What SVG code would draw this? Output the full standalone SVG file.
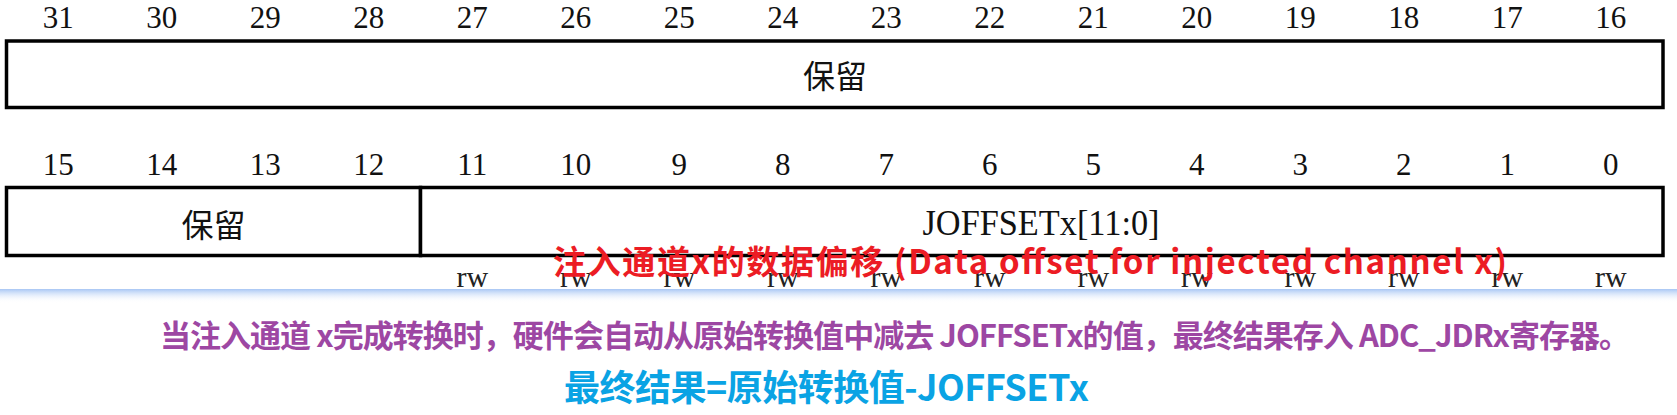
<svg xmlns="http://www.w3.org/2000/svg" width="1677" height="415" viewBox="0 0 1677 415">
<style>
.box{fill:#ffffff;stroke:#000000;stroke-width:3.5}
.ln{stroke:#000000;stroke-width:3.5}
.num{font-family:"Liberation Serif",serif;font-size:31px;fill:#111111;text-anchor:middle}
.rw{font-family:"Liberation Serif",serif;font-size:30px;fill:#222222;text-anchor:middle}
.cjk{font-family:"Noto Sans CJK SC",sans-serif;font-size:32px;fill:#111111;text-anchor:middle}
.fld{font-family:"Liberation Serif",serif;font-size:36px;fill:#111111;text-anchor:middle}
.note{font-family:"Noto Sans CJK SC",sans-serif;font-weight:bold}
</style>
<defs>
<linearGradient id="band" x1="0" y1="0" x2="0" y2="1">
<stop offset="0" stop-color="#a8c6f4" stop-opacity="1"/>
<stop offset="1" stop-color="#ffffff" stop-opacity="0"/>
</linearGradient>
</defs>
<rect x="0" y="0" width="1677" height="415" fill="#ffffff"/>
<rect x="0" y="289" width="1677" height="14" fill="url(#band)"/>
<g id="bits-high">
<text class="num" x="58.25" y="28">31</text>
<text class="num" x="161.75" y="28">30</text>
<text class="num" x="265.25" y="28">29</text>
<text class="num" x="368.75" y="28">28</text>
<text class="num" x="472.25" y="28">27</text>
<text class="num" x="575.75" y="28">26</text>
<text class="num" x="679.25" y="28">25</text>
<text class="num" x="782.75" y="28">24</text>
<text class="num" x="886.25" y="28">23</text>
<text class="num" x="989.75" y="28">22</text>
<text class="num" x="1093.25" y="28">21</text>
<text class="num" x="1196.75" y="28">20</text>
<text class="num" x="1300.25" y="28">19</text>
<text class="num" x="1403.75" y="28">18</text>
<text class="num" x="1507.25" y="28">17</text>
<text class="num" x="1610.75" y="28">16</text>
</g>
<g id="field-reserved-high">
<rect class="box" x="6.5" y="41" width="1656.5" height="66.5"/>
<text class="cjk" x="835" y="88">保留</text>
</g>
<g id="bits-low">
<text class="num" x="58.25" y="175">15</text>
<text class="num" x="161.75" y="175">14</text>
<text class="num" x="265.25" y="175">13</text>
<text class="num" x="368.75" y="175">12</text>
<text class="num" x="472.25" y="175">11</text>
<text class="num" x="575.75" y="175">10</text>
<text class="num" x="679.25" y="175">9</text>
<text class="num" x="782.75" y="175">8</text>
<text class="num" x="886.25" y="175">7</text>
<text class="num" x="989.75" y="175">6</text>
<text class="num" x="1093.25" y="175">5</text>
<text class="num" x="1196.75" y="175">4</text>
<text class="num" x="1300.25" y="175">3</text>
<text class="num" x="1403.75" y="175">2</text>
<text class="num" x="1507.25" y="175">1</text>
<text class="num" x="1610.75" y="175">0</text>
</g>
<g id="field-reserved-low">
<rect class="box" x="6.5" y="187.5" width="414" height="68"/>
<text class="cjk" x="213.5" y="237">保留</text>
</g>
<g id="field-joffset">
<rect class="box" x="420.5" y="187.5" width="1242.5" height="68"/>
<text class="fld" x="1041" y="235" textLength="237" lengthAdjust="spacingAndGlyphs">JOFFSETx[11:0]</text>
</g>
<g id="access">
<text class="rw" x="472.25" y="287">rw</text>
<text class="rw" x="575.75" y="287">rw</text>
<text class="rw" x="679.25" y="287">rw</text>
<text class="rw" x="782.75" y="287">rw</text>
<text class="rw" x="886.25" y="287">rw</text>
<text class="rw" x="989.75" y="287">rw</text>
<text class="rw" x="1093.25" y="287">rw</text>
<text class="rw" x="1196.75" y="287">rw</text>
<text class="rw" x="1300.25" y="287">rw</text>
<text class="rw" x="1403.75" y="287">rw</text>
<text class="rw" x="1507.25" y="287">rw</text>
<text class="rw" x="1610.75" y="287">rw</text>
</g>
<g id="connectors"></g>
<g id="annotations">
<text class="note" x="553" y="274" font-size="33" fill="#ec1c24" textLength="954">注入通道x的数据偏移 (Data offset for injected channel x)</text>
<text class="note" x="160" y="347" font-size="31" fill="#9d47a3" textLength="1470">当注入通道 x完成转换时，硬件会自动从原始转换值中减去 JOFFSETx的值，最终结果存入 ADC_JDRx寄存器。</text>
<text class="note" x="564" y="401" font-size="36" fill="#0aa3e4" textLength="525">最终结果=原始转换值-JOFFSETx</text>
</g>
</svg>
